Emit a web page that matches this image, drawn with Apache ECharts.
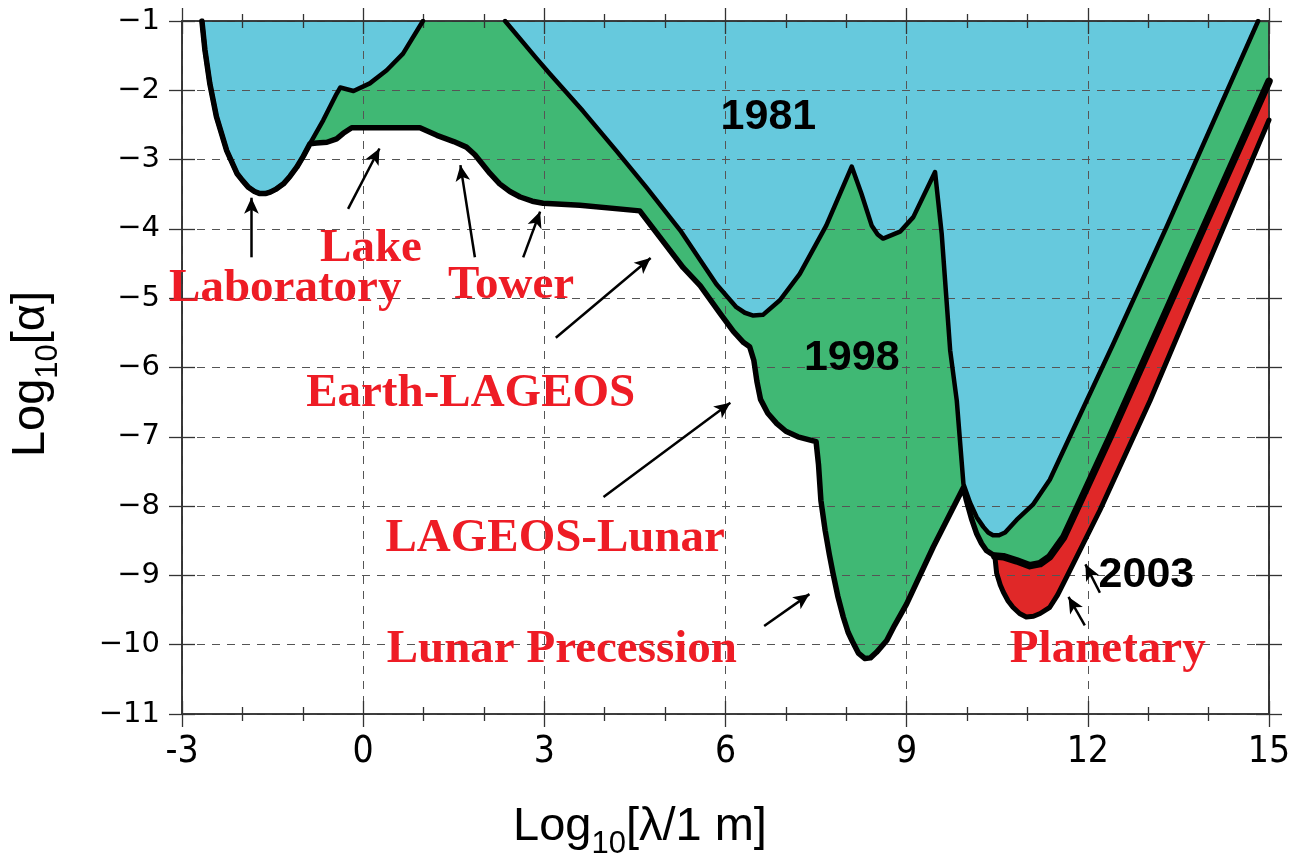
<!DOCTYPE html>
<html>
<head>
<meta charset="utf-8">
<script src="https://cdn.jsdelivr.net/npm/echarts@6/dist/echarts.min.js"></script>
<style>
  html, body { margin: 0; padding: 0; background: #ffffff; }
  #chart { width: 1293px; height: 856px; }
</style>
</head>
<body>
<div id="chart"></div>
<script>
// Excluded regions for a Yukawa-type deviation from Newtonian gravity:
// strength log10(alpha) against range log10(lambda / 1 m).

// Tick labels of both axes
const xTickValues = [-3, 0, 3, 6, 9, 12, 15];
const yTickValues = [-1, -2, -3, -4, -5, -6, -7, -8, -9, -10, -11];

// Laboratory bound, shared by every epoch up to where the 1998 limits branch off
const laboratory = [
  [-2.67, -1.00], [-2.62, -1.42], [-2.54, -1.90], [-2.43, -2.38], [-2.26, -2.87],
  [-2.09, -3.20], [-2.00, -3.30], [-1.90, -3.40], [-1.80, -3.46], [-1.71, -3.49],
  [-1.62, -3.49], [-1.54, -3.47], [-1.45, -3.43], [-1.32, -3.35], [-1.21, -3.24],
  [-1.10, -3.11], [-0.99, -2.95], [-0.88, -2.77]
];

// 1981 limit, short-range part (rises out of the plot near 1 m)
const limit1981Near = [
  [-0.88, -2.77], [-0.66, -2.43], [-0.44, -2.05], [-0.38, -1.96], [-0.16, -2.01],
  [0.11, -1.90], [0.39, -1.71], [0.66, -1.47], [0.99, -1.00]
];

// 1981 limit, long-range part (re-enters at 10^2.35 m)
const limit1981Far = [
  [2.35, -1.00], [2.87, -1.54], [3.09, -1.76], [3.64, -2.30], [4.19, -2.87],
  [4.69, -3.40], [5.25, -4.02], [5.58, -4.45], [5.85, -4.80], [6.18, -5.13],
  [6.32, -5.21], [6.46, -5.25], [6.62, -5.24], [6.90, -5.03], [7.23, -4.65],
  [7.67, -3.95], [8.09, -3.10], [8.25, -3.49], [8.42, -3.95], [8.52, -4.08],
  [8.61, -4.14], [8.89, -4.04], [9.11, -3.83], [9.47, -3.18], [9.58, -4.07],
  [9.66, -5.03], [9.72, -5.75], [9.83, -6.48], [9.94, -7.68], [10.05, -7.95],
  [10.16, -8.16], [10.27, -8.30], [10.35, -8.38], [10.43, -8.42], [10.53, -8.42],
  [10.63, -8.38], [10.82, -8.20], [11.09, -7.98], [11.37, -7.62], [11.98, -6.48],
  [12.42, -5.66], [13.30, -3.98], [14.82, -1.00]
];

// 1998 limit (lake, tower, Earth-LAGEOS, LAGEOS-lunar, lunar precession, planetary)
const limit1998 = [
  [-0.88, -2.77], [-0.77, -2.76], [-0.60, -2.75], [-0.44, -2.70], [-0.33, -2.62],
  [-0.19, -2.54], [0.94, -2.54], [1.22, -2.65], [1.50, -2.74], [1.71, -2.82],
  [1.85, -2.93], [1.97, -3.06], [2.10, -3.20], [2.26, -3.35], [2.43, -3.46],
  [2.60, -3.54], [2.80, -3.60], [2.98, -3.63], [3.59, -3.66], [4.58, -3.74],
  [5.30, -4.56], [5.58, -4.82], [5.91, -5.22], [6.13, -5.48], [6.30, -5.64],
  [6.40, -5.70], [6.47, -5.90], [6.52, -6.20], [6.58, -6.46], [6.70, -6.66],
  [6.85, -6.81], [7.00, -6.92], [7.20, -7.00], [7.50, -7.07], [7.54, -7.40],
  [7.58, -7.92], [7.65, -8.35], [7.72, -8.70], [7.78, -8.97], [7.86, -9.30],
  [7.95, -9.60], [8.03, -9.82], [8.10, -9.95], [8.20, -10.12], [8.31, -10.20],
  [8.40, -10.19], [8.50, -10.11], [8.67, -9.94], [8.80, -9.72], [9.00, -9.41],
  [9.44, -8.59], [9.94, -7.73], [9.99, -7.92], [10.08, -8.20], [10.16, -8.40],
  [10.24, -8.54], [10.32, -8.64], [10.46, -8.72], [10.60, -8.73], [10.82, -8.79],
  [11.04, -8.86], [11.21, -8.83], [11.37, -8.73], [11.60, -8.45], [11.85, -7.98],
  [12.37, -7.00], [15.00, -1.87]
];

// 2003 planetary limit
const limit2003 = [
  [10.46, -8.72], [10.49, -8.97], [10.55, -9.14], [10.60, -9.24], [10.68, -9.37],
  [10.76, -9.46], [10.87, -9.55], [10.98, -9.60], [11.10, -9.59], [11.21, -9.55],
  [11.37, -9.46], [11.50, -9.28], [11.65, -9.02], [12.20, -8.06], [13.03, -6.48],
  [15.00, -2.43]
];

// ---- assembled curves ----
const gap = [[1.70, '-']];
const curve1981 = laboratory.concat(limit1981Near.slice(1), gap, limit1981Far);
const curve1998 = laboratory.concat(limit1998.slice(1));
const curve1998Planetary = limit1998.filter(p => p[0] >= limit2003[0][0]);

const xMin = xTickValues[0];
const xMax = xTickValues[xTickValues.length - 1];
const xStep = xTickValues[1] - xTickValues[0];
const yMax = yTickValues[0];
const yMin = yTickValues[yTickValues.length - 1];
const yStep = yTickValues[0] - yTickValues[1];

const BLUE = '#66c9dd';
const GREEN = '#40b874';
const RED = '#e02828';
const NOTE_RED = '#ee1c25';
const AXIS = '#333333';

// annotation texts (centre points in data space) and pointer arrows
const notes = [
  { text: 'Lake', at: [0.13, -4.29], kind: 'probe' },
  { text: 'Laboratory', at: [-1.29, -4.87], kind: 'probe' },
  { text: 'Tower', at: [2.45, -4.82], kind: 'probe' },
  { text: 'Earth-LAGEOS', at: [1.78, -6.38], kind: 'probe' },
  { text: 'LAGEOS-Lunar', at: [3.18, -8.47], kind: 'probe' },
  { text: 'Lunar Precession', at: [3.29, -10.07], kind: 'probe' },
  { text: 'Planetary', at: [12.33, -10.07], kind: 'probe' },
  { text: '1981', at: [6.71, -2.39], kind: 'year' },
  { text: '1998', at: [8.09, -5.87], kind: 'year' },
  { text: '2003', at: [12.97, -9.00], kind: 'year' }
];
const arrows = [
  { from: [-1.85, -4.41], to: [-1.85, -3.55] },
  { from: [-0.25, -3.71], to: [0.27, -2.84] },
  { from: [1.85, -4.41], to: [1.61, -3.08] },
  { from: [2.65, -4.41], to: [2.93, -3.75] },
  { from: [3.19, -5.57], to: [4.76, -4.42] },
  { from: [3.98, -7.87], to: [6.08, -6.51] },
  { from: [6.64, -9.73], to: [7.39, -9.27] },
  { from: [12.20, -9.25], to: [11.96, -8.84] },
  { from: [11.95, -9.72], to: [11.68, -9.31] }
];

const noteStyles = {
  probe: { fontFamily: '"Liberation Serif", "Times New Roman", serif', fontWeight: 'bold', fontSize: 47, color: NOTE_RED },
  year: { fontFamily: '"Liberation Sans", Arial, sans-serif', fontWeight: 'bold', fontSize: 43, color: '#000000' }
};

// ---- axes: each frame side gets an outward and an inward copy so ticks cross the frame ----
function xAxisSide(position, inside, main) {
  return {
    type: 'value', position, min: xMin, max: xMax, interval: xStep, z: 4,
    axisLine: { show: true, onZero: false, lineStyle: { color: AXIS, width: 1.6 } },
    axisTick: { show: true, inside, length: 13, lineStyle: { color: AXIS, width: 1.3 } },
    minorTick: { show: true, splitNumber: 3, length: 7, lineStyle: { color: AXIS, width: 1.3 } },
    axisLabel: main ? {
      show: true, margin: 20, color: '#000000', fontSize: 37,
      fontFamily: '"Liberation Sans Narrow", "DejaVu Sans Condensed", "Liberation Sans", sans-serif',
      formatter: v => String(v)
    } : { show: false },
    splitLine: main ? { show: true, lineStyle: { color: '#555555', width: 1, type: [8, 7] } } : { show: false },
    minorSplitLine: { show: false }
  };
}
function yAxisSide(position, inside, main) {
  return {
    type: 'value', position, min: yMin, max: yMax, interval: yStep, z: 4,
    axisLine: { show: true, onZero: false, lineStyle: { color: AXIS, width: 1.6 } },
    axisTick: { show: true, inside, length: 13, lineStyle: { color: AXIS, width: 1.3 } },
    axisLabel: main ? {
      show: true, margin: 22, color: '#000000', fontSize: 29,
      fontFamily: '"DejaVu Sans", sans-serif',
      formatter: v => (v < 0 ? '\u2212' : '') + Math.abs(v)
    } : { show: false },
    splitLine: main ? { show: true, lineStyle: { color: '#555555', width: 1, type: [8, 7] } } : { show: false }
  };
}

function areaSeries(name, data, color, z) {
  return {
    name, type: 'line', data, z, showSymbol: false, symbol: 'none', silent: true,
    connectNulls: false, clip: true,
    lineStyle: { width: 0, opacity: 0 },
    areaStyle: { color, opacity: 1, origin: 'end' }
  };
}
function edgeSeries(name, data, width, z) {
  return {
    name, type: 'line', data, z, showSymbol: false, symbol: 'none', silent: true,
    connectNulls: false, clip: true,
    lineStyle: { color: '#000000', width, join: 'round', cap: 'round' }
  };
}

const titleFont = '"Liberation Sans", Arial, sans-serif';
const titleRich = {
  m: { fontSize: 47, lineHeight: 66, fontFamily: titleFont, fill: '#000000' },
  s: { fontSize: 31, lineHeight: 30, verticalAlign: 'bottom', fontFamily: titleFont, fill: '#000000' }
};

const option = {
  backgroundColor: '#ffffff',
  animation: false,
  grid: { left: 182, right: 24, top: 21, bottom: 142, containLabel: false, outerBoundsMode: 'none' },
  xAxis: [
    xAxisSide('bottom', false, true),
    xAxisSide('bottom', true, false),
    xAxisSide('top', false, false),
    xAxisSide('top', true, false)
  ],
  yAxis: [
    yAxisSide('left', false, true),
    yAxisSide('left', true, false),
    yAxisSide('right', false, false),
    yAxisSide('right', true, false)
  ],
  series: [
    areaSeries('2003 area', limit2003, RED, 1),
    areaSeries('1998 area', curve1998, GREEN, 2),
    areaSeries('1981 area', curve1981, BLUE, 3),
    edgeSeries('1981', curve1981, 4.5, 5),
    edgeSeries('1998', curve1998, 5.5, 5),
    edgeSeries('1998 planetary', curve1998Planetary, 7.5, 5),
    edgeSeries('2003', limit2003, 5, 5),
    {
      name: 'notes', type: 'scatter', z: 6, silent: true, symbolSize: 0,
      itemStyle: { opacity: 1 },
      data: notes.map(n => ({
        value: n.at,
        label: Object.assign({ show: true, opacity: 1, formatter: n.text, position: [0, 0], align: 'center', verticalAlign: 'middle' }, noteStyles[n.kind])
      })),
      markLine: {
        silent: true, animation: false, symbol: ['none', 'arrow'], symbolSize: [11, 16],
        label: { show: false },
        lineStyle: { color: '#000000', width: 2.5, type: 'solid', opacity: 1 },
        data: arrows.map(a => [{ coord: a.from }, { coord: a.to }])
      }
    }
  ],
  graphic: [
    {
      type: 'text', x: 513, y: 794, silent: true,
      style: { text: '{m|Log}{s|10}{m|[\u03bb/1 m]}', rich: titleRich, align: 'left', verticalAlign: 'top' }
    },
    {
      type: 'text', x: -2, y: 374, rotation: Math.PI / 2, silent: true,
      style: { text: '{m|Log}{s|10}{m|[\u03b1]}', rich: titleRich, align: 'center', verticalAlign: 'top' }
    }
  ]
};

const chart = echarts.init(document.getElementById('chart'), null, { renderer: 'canvas' });
chart.setOption(option);
</script>
</body>
</html>
